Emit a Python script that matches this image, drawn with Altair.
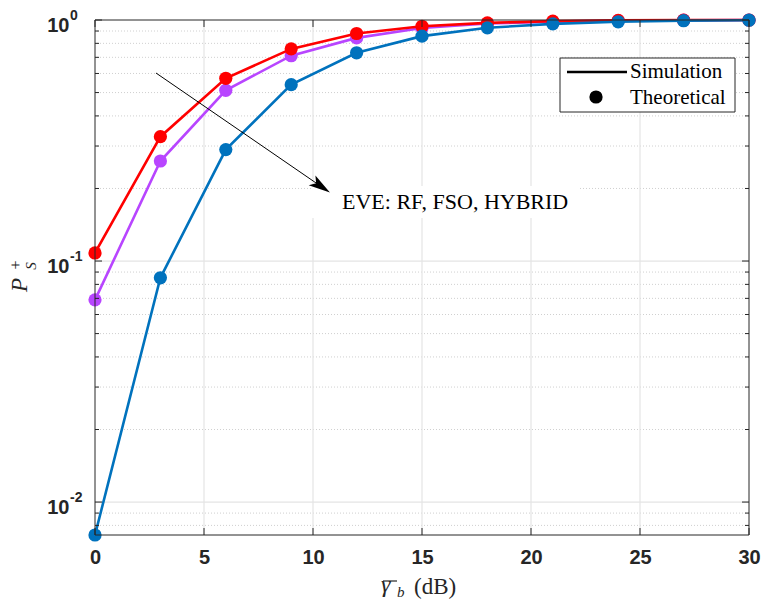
import altair as alt
import pandas as pd

snr = [0, 3, 6, 9, 12, 15, 18, 21, 24, 27, 30]
series_names = ["HYBRID", "RF", "FSO"]
p_purple = [0.069, 0.260, 0.511, 0.711, 0.843, 0.926, 0.967, 0.985, 0.994, 0.998, 1.0]
p_red = [0.108, 0.328, 0.573, 0.759, 0.879, 0.942, 0.973, 0.989, 0.996, 0.999, 1.0]
p_blue = [0.0073, 0.0852, 0.290, 0.539, 0.731, 0.857, 0.928, 0.964, 0.983, 0.993, 0.998]
colors = ["#B845FF", "#FF0000", "#0072BD"]

x_ticks = [0, 5, 10, 15, 20, 25, 30]
y_major = [0.01, 0.1, 1.0]
y_exp = ["-2", "-1", "0"]
y_minor = [0.008, 0.009, 0.02, 0.03, 0.04, 0.05, 0.06, 0.07, 0.08, 0.09,
           0.2, 0.3, 0.4, 0.5, 0.6, 0.7, 0.8, 0.9]

W, H = 654, 515
AX = "#262626"
xscale = alt.Scale(domain=[0, 30], nice=False, zero=False)
yscale = alt.Scale(type="log", domain=[0.0073, 1.0], nice=False)

one = alt.Data(values=[{"a": 1}])

minor_df = pd.DataFrame({"v": y_minor})
major_df = pd.DataFrame({"v": y_major, "e": y_exp})
xt_df = pd.DataFrame({"x": x_ticks})

# axes (labels only)
axes = alt.Chart(pd.DataFrame({"x": x_ticks, "v": [0.1] * 7})).mark_point(opacity=0).encode(
    x=alt.X("x:Q", scale=xscale, axis=alt.Axis(values=x_ticks, title=None, grid=False, ticks=False, domain=False,
                                               labelFont="Liberation Sans", labelFontWeight="bold",
                                               labelFontSize=20, labelColor=AX, labelPadding=12,
                                               labelFlush=False, labelOverlap=False)),
    y=alt.Y("v:Q", scale=yscale, axis=alt.Axis(values=y_major, labelExpr="'10'", title=None, grid=False,
                                               ticks=False, domain=False, labelFont="Liberation Sans",
                                               labelFontWeight="bold", labelFontSize=20, labelColor=AX,
                                               labelPadding=26, labelOffset=5, labelFlush=False,
                                               labelOverlap=False)),
)

# gridlines
g_minor = alt.Chart(minor_df).mark_rule(color="#c4c4c4", strokeWidth=0.8, strokeDash=[1, 2]).encode(
    y=alt.Y("v:Q", scale=yscale, axis=None))
g_major_y = alt.Chart(pd.DataFrame({"v": y_major[:2]})).mark_rule(color="#e4e4e4", strokeWidth=1.2).encode(
    y=alt.Y("v:Q", scale=yscale, axis=None))
g_major_x = alt.Chart(pd.DataFrame({"x": x_ticks[1:-1]})).mark_rule(color="#e4e4e4", strokeWidth=1.2).encode(
    x=alt.X("x:Q", scale=xscale, axis=None))

exps = alt.Chart(major_df).mark_text(font="Liberation Sans", fontWeight="bold", fontSize=14, color=AX,
                                     align="left", baseline="middle", dy=-4).encode(
    y=alt.Y("v:Q", scale=yscale, axis=None), x=alt.value(-25), text="e:N")

# annotation white box
ann_box = alt.Chart(one).mark_rect(fill="white").encode(
    x=alt.value(216), x2=alt.value(485), y=alt.value(166), y2=alt.value(198))

# series
layers = []
for name, vals, c in zip(series_names, [p_purple, p_red, p_blue], colors):
    df = pd.DataFrame({"snr": snr, "p": vals, "s": name})
    base = alt.Chart(df).encode(x=alt.X("snr:Q", scale=xscale, axis=None),
                                y=alt.Y("p:Q", scale=yscale, axis=None))
    layers.append(base.mark_line(color=c, strokeWidth=2.6, clip=False))
    layers.append(base.mark_point(color=c, filled=True, opacity=1, size=175, clip=False))

# frame
frame = alt.Chart(one).mark_rect(fillOpacity=0, stroke=AX, strokeWidth=1).encode(
    x=alt.value(0), x2=alt.value(W), y=alt.value(0), y2=alt.value(H))

# inward ticks
tk_minor_l = alt.Chart(minor_df).mark_rule(color=AX).encode(
    y=alt.Y("v:Q", scale=yscale, axis=None), x=alt.value(0), x2=alt.value(4))
tk_minor_r = alt.Chart(minor_df).mark_rule(color=AX).encode(
    y=alt.Y("v:Q", scale=yscale, axis=None), x=alt.value(W - 4), x2=alt.value(W))
tk_major_l = alt.Chart(major_df).mark_rule(color=AX).encode(
    y=alt.Y("v:Q", scale=yscale, axis=None), x=alt.value(0), x2=alt.value(7))
tk_major_r = alt.Chart(major_df).mark_rule(color=AX).encode(
    y=alt.Y("v:Q", scale=yscale, axis=None), x=alt.value(W - 7), x2=alt.value(W))
tk_x_b = alt.Chart(xt_df).mark_rule(color=AX).encode(
    x=alt.X("x:Q", scale=xscale, axis=None), y=alt.value(H - 7), y2=alt.value(H))
tk_x_t = alt.Chart(xt_df).mark_rule(color=AX).encode(
    x=alt.X("x:Q", scale=xscale, axis=None), y=alt.value(0), y2=alt.value(7))

# legend
leg_box = alt.Chart(one).mark_rect(fill="white", stroke="#262626", strokeWidth=1).encode(
    x=alt.value(465), x2=alt.value(640), y=alt.value(38), y2=alt.value(92))
leg_line = alt.Chart(one).mark_rule(color="black", strokeWidth=2.6).encode(
    x=alt.value(472), x2=alt.value(532), y=alt.value(52))
leg_pt = alt.Chart(one).mark_point(color="black", filled=True, opacity=1, size=175).encode(
    x=alt.value(501), y=alt.value(77))
leg_t1 = alt.Chart(one).mark_text(text="Simulation", font="Liberation Serif", fontSize=21, color="black",
                                  align="left", baseline="middle").encode(x=alt.value(535), y=alt.value(52))
leg_t2 = alt.Chart(one).mark_text(text="Theoretical", font="Liberation Serif", fontSize=21, color="black",
                                  align="left", baseline="middle").encode(x=alt.value(535), y=alt.value(78))

# arrow annotation
arr_line = alt.Chart(one).mark_rule(color="black", strokeWidth=1).encode(
    x=alt.value(61), y=alt.value(53), x2=alt.value(224), y2=alt.value(165))
arr_head = alt.Chart(one).mark_point(
    shape="M1,0 L-1,-0.55 L-0.55,0 L-1,0.55 Z", filled=True, color="black", opacity=1, size=470,
    angle=34.4).encode(x=alt.value(226), y=alt.value(166.5))
ann_text = alt.Chart(one).mark_text(text="EVE: RF, FSO, HYBRID", font="Liberation Serif", fontSize=22,
                                    color="black", align="left", baseline="alphabetic").encode(
    x=alt.value(247), y=alt.value(189))

# axis titles
xt_g = alt.Chart(one).mark_text(text="γ", font="Liberation Serif", fontStyle="italic", fontSize=24,
                                color=AX, align="left", baseline="alphabetic").encode(
    x=alt.value(286), y=alt.value(572))
xt_bar = alt.Chart(one).mark_rule(color=AX, strokeWidth=1.2).encode(
    x=alt.value(288), x2=alt.value(302), y=alt.value(561))
xt_b = alt.Chart(one).mark_text(text="b", font="Liberation Serif", fontStyle="italic", fontSize=15,
                                color=AX, align="left", baseline="alphabetic").encode(
    x=alt.value(302), y=alt.value(577))
xt_db = alt.Chart(one).mark_text(text="(dB)", font="Liberation Serif", fontSize=23,
                                 color=AX, align="left", baseline="alphabetic").encode(
    x=alt.value(319), y=alt.value(574))

yt_p = alt.Chart(one).mark_text(text="P", font="Liberation Serif", fontStyle="italic", fontSize=23,
                                color=AX, align="center", baseline="alphabetic", angle=270).encode(
    x=alt.value(-68), y=alt.value(265))
yt_s = alt.Chart(one).mark_text(text="S", font="Liberation Serif", fontStyle="italic", fontSize=15,
                                color=AX, align="center", baseline="alphabetic", angle=270).encode(
    x=alt.value(-59), y=alt.value(246))
yt_plus = alt.Chart(one).mark_text(text="+", font="Liberation Serif", fontSize=16,
                                   color=AX, align="center", baseline="alphabetic", angle=270).encode(
    x=alt.value(-74), y=alt.value(245))

chart = alt.layer(
    axes, g_minor, g_major_y, g_major_x, ann_box, *layers, frame,
    tk_minor_l, tk_minor_r, tk_major_l, tk_major_r, tk_x_b, tk_x_t,
    leg_box, leg_line, leg_pt, leg_t1, leg_t2,
    arr_line, arr_head, ann_text, exps,
    xt_g, xt_bar, xt_b, xt_db, yt_p, yt_s, yt_plus,
).resolve_axis(x="independent", y="independent").properties(
    width=W, height=H,
    autosize=alt.AutoSizeParams(type="none"),
    padding={"left": 95, "top": 20, "right": 12, "bottom": 66},
    background="white",
).configure_view(stroke=None)

chart.save("out.html", embed_options={"renderer": "svg", "actions": False})
